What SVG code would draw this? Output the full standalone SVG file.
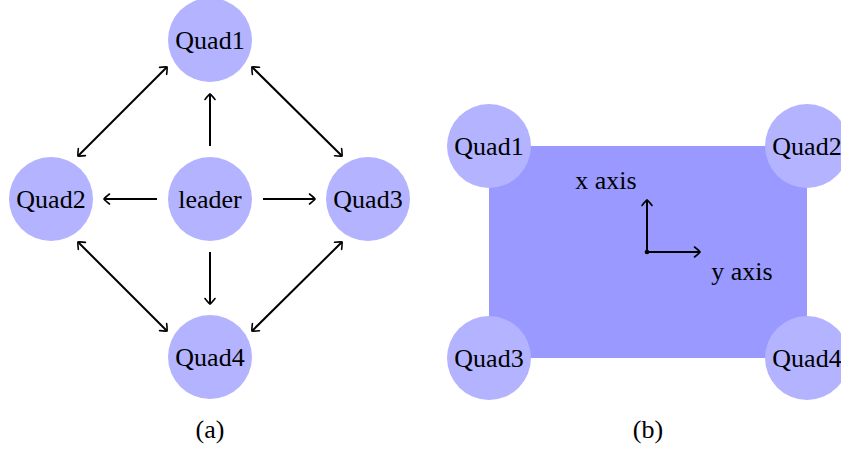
<svg xmlns="http://www.w3.org/2000/svg" width="841" height="450" viewBox="0 0 841 450" font-family="Liberation Serif, Times New Roman, serif">
<style>
.node{fill:#b3b3ff}
.t{font-family:'Liberation Serif',serif;font-size:26px;fill:#000;text-anchor:middle}
.c{stroke:#000;stroke-width:2;fill:none}
.a{marker-end:url(#ah)}
.d{marker-start:url(#ah);marker-end:url(#ah)}
</style>
<defs>
<marker id="ah" markerUnits="userSpaceOnUse" markerWidth="14" markerHeight="14" viewBox="-8 -7 10 14" refX="0" refY="0" orient="auto-start-reverse">
<path d="M -5.5 -5 Q -1 -1.5 0 0 Q -1 1.5 -5.5 5" fill="none" stroke="#000" stroke-width="1.6" stroke-linecap="round"/>
</marker>
</defs>
<rect width="841" height="450" fill="#fff"/>
<g id="diagram-a">
<g id="a-quad1"><circle class="node" cx="210" cy="40" r="42"/><text class="t" x="210" y="49">Quad1</text></g>
<g id="a-quad2"><circle class="node" cx="51" cy="199" r="42"/><text class="t" x="51" y="208">Quad2</text></g>
<g id="a-leader"><circle class="node" cx="210" cy="199" r="42"/><text class="t" x="210" y="208">leader</text></g>
<g id="a-quad3"><circle class="node" cx="368" cy="199" r="42"/><text class="t" x="368" y="208">Quad3</text></g>
<g id="a-quad4"><circle class="node" cx="210" cy="357" r="42"/><text class="t" x="210" y="366">Quad4</text></g>
<g id="a-connectors">
<line class="c a" x1="210" y1="146" x2="210" y2="94"/>
<line class="c a" x1="157" y1="199" x2="104" y2="199"/>
<line class="c a" x1="263" y1="199" x2="315" y2="199"/>
<line class="c a" x1="210" y1="252" x2="210" y2="304"/>
<line class="c d" x1="167" y1="67" x2="78" y2="156"/>
<line class="c d" x1="252" y1="67" x2="342" y2="156"/>
<line class="c d" x1="78" y1="242" x2="167" y2="331"/>
<line class="c d" x1="342" y1="242" x2="252" y2="331"/>
</g>
<text id="label-a" class="t" x="210" y="438">(a)</text>
</g>
<g id="diagram-b">
<rect id="b-body" x="489" y="146" width="318" height="212" fill="#9999ff"/>
<g id="b-quad1"><circle class="node" cx="489" cy="146" r="42"/><text class="t" x="489" y="155">Quad1</text></g>
<g id="b-quad2"><circle class="node" cx="807" cy="146" r="42"/><text class="t" x="807" y="155">Quad2</text></g>
<g id="b-quad3"><circle class="node" cx="489" cy="358" r="42"/><text class="t" x="489" y="367">Quad3</text></g>
<g id="b-quad4"><circle class="node" cx="807" cy="358" r="42"/><text class="t" x="807" y="367">Quad4</text></g>
<g id="b-axes">
<line class="c a" x1="647" y1="252" x2="647" y2="200"/>
<line class="c a" x1="647" y1="252" x2="700" y2="252"/>
<circle cx="647" cy="252" r="2.3" fill="#000"/>
<text class="t" x="606" y="189">x axis</text>
<text class="t" x="742" y="280">y axis</text>
</g>
<text id="label-b" class="t" x="648" y="438">(b)</text>
</g>
</svg>
